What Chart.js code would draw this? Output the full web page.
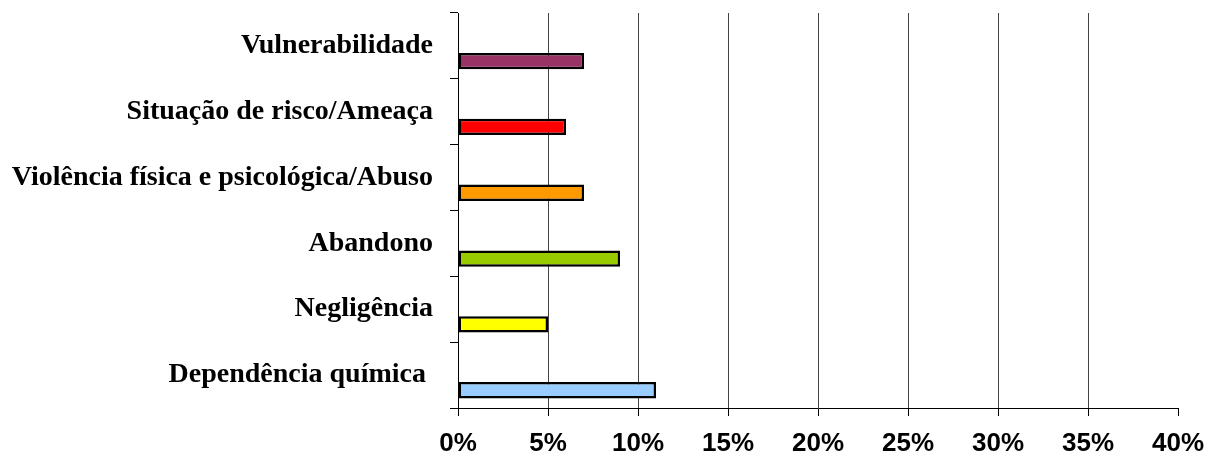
<!DOCTYPE html>
<html>
<head>
<meta charset="utf-8">
<script src="https://cdn.jsdelivr.net/npm/chart.js@4/dist/chart.umd.min.js"></script>
<style>
html,body{margin:0;padding:0;background:#fff;}
#wrap{width:1208px;height:453px;position:relative;}
</style>
</head>
<body>
<div id="wrap"><canvas id="c"></canvas></div>
<script>
const categories = ["Vulnerabilidade", "Situação de risco/Ameaça", "Violência física e psicológica/Abuso", "Abandono", "Negligência", "Dependência química "];
const values = [7, 6, 7, 9, 5, 11];
const barColors = ["#993366", "#FF0000", "#FF9900", "#99CC00", "#FFFF00", "#99CCFF"];
const xTicks = [0, 5, 10, 15, 20, 25, 30, 35, 40];

new Chart(document.getElementById('c'), {
  type: 'bar',
  data: {
    labels: categories,
    datasets: [
      { data: categories.map(() => null), backgroundColor: 'transparent' },
      { data: values, backgroundColor: barColors, borderColor: '#000', borderWidth: 2.5, borderSkipped: false }
    ]
  },
  options: {
    indexAxis: 'y',
    responsive: true,
    maintainAspectRatio: false,
    animation: false,
    layout: { padding: { top: 13, right: 30, left: 0, bottom: 0 } },
    datasets: { bar: { categoryPercentage: 0.92, barPercentage: 0.54 } },
    plugins: { legend: { display: false }, tooltip: { enabled: false } },
    scales: {
      x: {
        min: 0, max: 40,
        afterFit: s => { s.height = 45; s.paddingLeft = 0; s.paddingRight = 0; },
        afterBuildTicks: s => { s.ticks = xTicks.map(v => ({ value: v })); },
        border: { display: true, color: '#000', width: 1 },
        grid: {
          color: c => (c.tick && c.tick.value === 40) ? 'rgba(0,0,0,0)' : (c.tick && c.tick.value === 0 ? '#000' : '#444'),
          tickColor: '#000',
          tickLength: 8,
          lineWidth: 1
        },
        ticks: {
          padding: 12,
          color: '#000',
          font: { family: 'Liberation Sans', weight: 'bold', size: 26 },
          callback: v => v + '%'
        }
      },
      y: {
        afterFit: s => { s.width = 458; s.paddingTop = 0; s.paddingBottom = 0; },
        border: { display: true, color: '#000', width: 1 },
        grid: {
          offset: true,
          drawOnChartArea: false,
          drawTicks: true,
          tickLength: 8,
          color: '#000'
        },
        ticks: {
          padding: 17,
          color: '#000',
          font: { family: 'Liberation Serif', weight: 'bold', size: 28 }
        }
      }
    }
  }
});
</script>
</body>
</html>
